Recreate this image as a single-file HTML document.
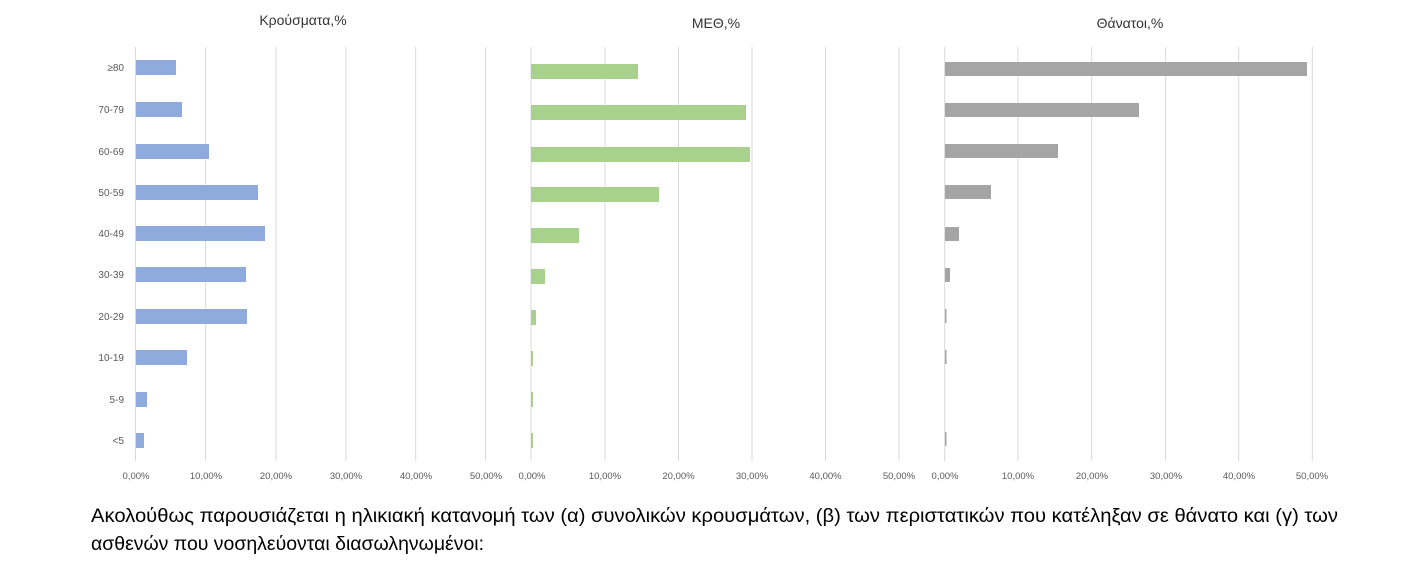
<!DOCTYPE html>
<html><head><meta charset="utf-8"><style>html,body{margin:0;padding:0;background:#fff}svg{display:block}</style></head>
<body>
<svg width="1428" height="566" xmlns="http://www.w3.org/2000/svg" font-family="Liberation Sans, DejaVu Sans, sans-serif">
<g stroke="#d9d9d9" stroke-width="1">
<line x1="135.5" y1="47" x2="135.5" y2="461"/><line x1="205.7" y1="47" x2="205.7" y2="461"/><line x1="276" y1="47" x2="276" y2="461"/><line x1="346" y1="47" x2="346" y2="461"/><line x1="415.7" y1="47" x2="415.7" y2="461"/><line x1="485.7" y1="47" x2="485.7" y2="461"/>
<line x1="531" y1="47" x2="531" y2="461"/><line x1="605" y1="47" x2="605" y2="461"/><line x1="678.5" y1="47" x2="678.5" y2="461"/><line x1="752" y1="47" x2="752" y2="461"/><line x1="825.5" y1="47" x2="825.5" y2="461"/><line x1="899" y1="47" x2="899" y2="461"/>
<line x1="944.7" y1="47" x2="944.7" y2="461"/><line x1="1018" y1="47" x2="1018" y2="461"/><line x1="1091.7" y1="47" x2="1091.7" y2="461"/><line x1="1165.7" y1="47" x2="1165.7" y2="461"/><line x1="1238.7" y1="47" x2="1238.7" y2="461"/><line x1="1312.3" y1="47" x2="1312.3" y2="461"/>
</g>
<g fill="#333" font-size="14" text-anchor="middle">
<text x="303" y="25">Κρούσματα,%</text><text x="716" y="28">ΜΕΘ,%</text><text x="1130" y="28">Θάνατοι,%</text>
</g>
<g fill="#595959" font-size="10" text-anchor="end">
<text x="124" y="71">≥80</text><text x="124" y="113">70-79</text><text x="124" y="155">60-69</text><text x="124" y="196">50-59</text><text x="124" y="237">40-49</text><text x="124" y="278">30-39</text><text x="124" y="320">20-29</text><text x="124" y="361">10-19</text><text x="124" y="403">5-9</text><text x="124" y="444">&lt;5</text>
</g>
<g fill="#8faadc">
<rect x="136" y="60" width="40" height="15"/><rect x="136" y="102" width="46" height="15"/><rect x="136" y="144" width="73" height="15"/><rect x="136" y="185" width="122" height="15"/><rect x="136" y="226" width="129" height="15"/><rect x="136" y="267" width="110" height="15"/><rect x="136" y="309" width="111" height="15"/><rect x="136" y="350" width="51" height="15"/><rect x="136" y="392" width="11" height="15"/><rect x="136" y="433" width="8" height="15"/>
</g>
<g fill="#a9d18e">
<rect x="531" y="64" width="107" height="15"/><rect x="531" y="105" width="215" height="15"/><rect x="531" y="147" width="219" height="15"/><rect x="531" y="187" width="128" height="15"/><rect x="531" y="228" width="48" height="15"/><rect x="531" y="269" width="14" height="15"/><rect x="531" y="310" width="5" height="15"/><rect x="531" y="351" width="2" height="15"/><rect x="531" y="392" width="2" height="15"/><rect x="531" y="433" width="2" height="15"/>
</g>
<g fill="#a5a5a5">
<rect x="945" y="62" width="362" height="14"/><rect x="945" y="103" width="194" height="14"/><rect x="945" y="144" width="113" height="14"/><rect x="945" y="185" width="46" height="14"/><rect x="945" y="227" width="14" height="14"/><rect x="945" y="268" width="5" height="14"/><rect x="945" y="309" width="1.5" height="14"/><rect x="945" y="350" width="1.5" height="14"/><rect x="945" y="432" width="1.5" height="14"/>
</g>
<g fill="#595959" font-size="9.5" text-anchor="middle">
<text x="136" y="479">0,00%</text><text x="206" y="479">10,00%</text><text x="276" y="479">20,00%</text><text x="346" y="479">30,00%</text><text x="416" y="479">40,00%</text><text x="486" y="479">50,00%</text>
<text x="532" y="479">0,00%</text><text x="605" y="479">10,00%</text><text x="678.5" y="479">20,00%</text><text x="752" y="479">30,00%</text><text x="825.5" y="479">40,00%</text><text x="899" y="479">50,00%</text>
<text x="945" y="479">0,00%</text><text x="1018" y="479">10,00%</text><text x="1092" y="479">20,00%</text><text x="1166" y="479">30,00%</text><text x="1239" y="479">40,00%</text><text x="1312" y="479">50,00%</text>
</g>
<g fill="#000" font-size="19">
<text x="91" y="522" textLength="1247" lengthAdjust="spacingAndGlyphs">Ακολούθως παρουσιάζεται η ηλικιακή κατανομή των (α) συνολικών κρουσμάτων, (β) των περιστατικών που κατέληξαν σε θάνατο και (γ) των</text>
<text x="91" y="550" textLength="393" lengthAdjust="spacingAndGlyphs">ασθενών που νοσηλεύονται διασωληνωμένοι:</text>
</g>
</svg>
</body></html>
